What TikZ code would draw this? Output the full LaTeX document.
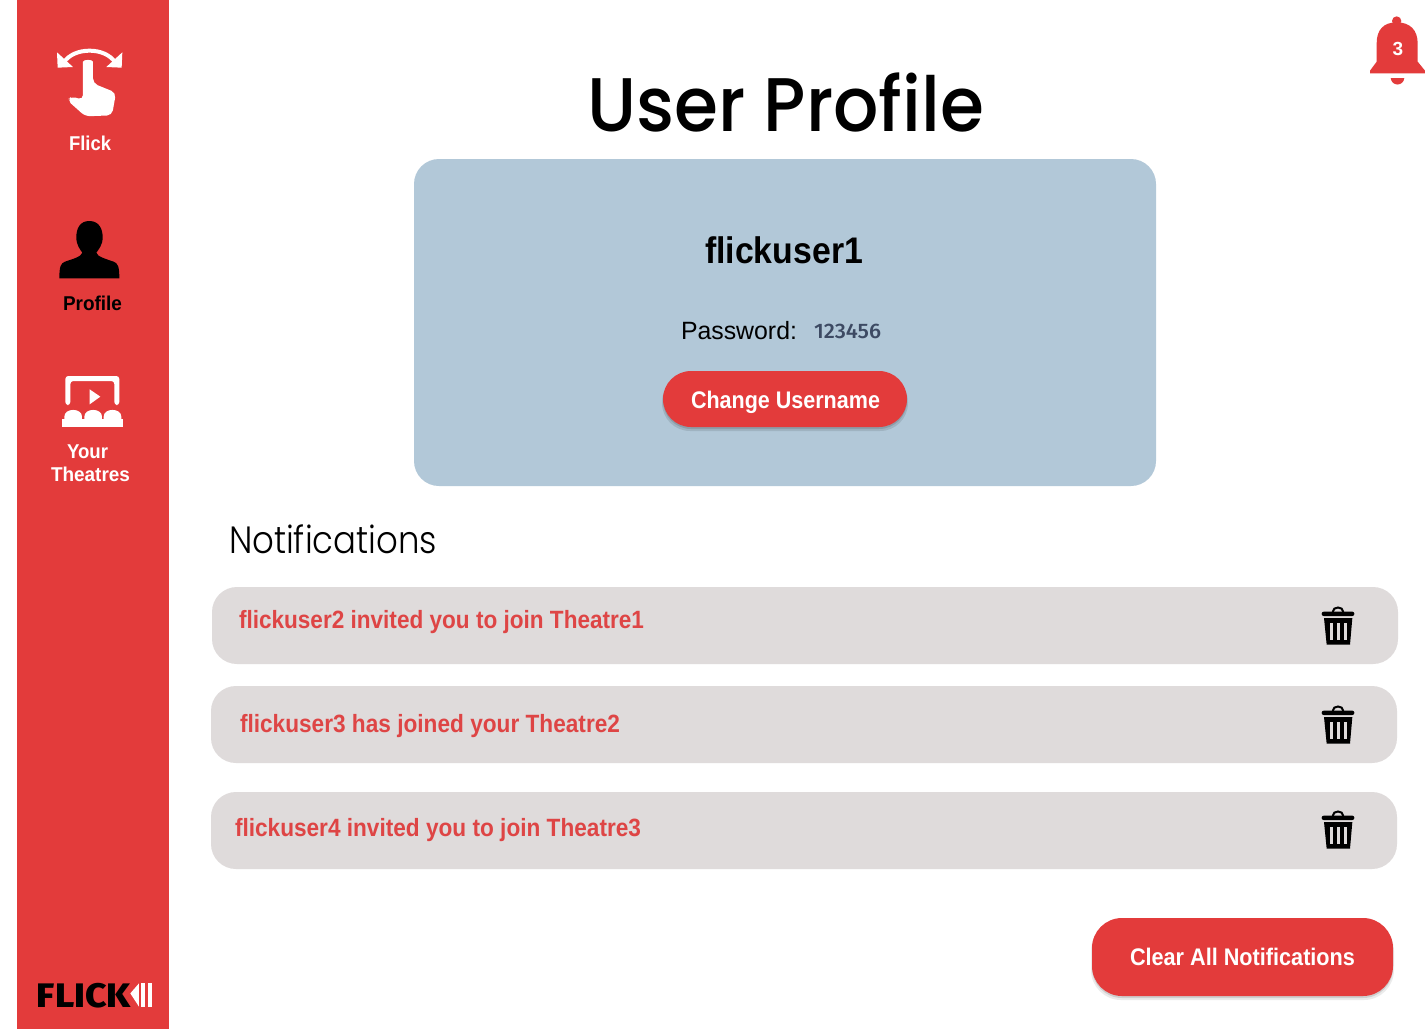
\documentclass[tikz,border=0pt]{standalone}
\usepackage{fontspec}
\usepackage{graphicx}
\setmainfont{Liberation Sans}
\newfontfamily\titlef{Poppins Medium}
\newfontfamily\lightf{Poppins Light}
\newfontfamily\medf{Fira Sans Medium}
\newfontfamily\logof{Fira Sans ExtraBold}
\definecolor{flickred}{HTML}{E33B3B}
\definecolor{cardblue}{HTML}{B2C8D8}
\definecolor{rowgrey}{HTML}{DFDBDB}
\definecolor{rowtext}{HTML}{DE4545}
\definecolor{pwtext}{HTML}{3D4A63}
\newcommand{\fitt}[4]{\resizebox{#1pt}{\height}{\fontsize{#2pt}{#2pt}\selectfont#3{}#4}}
\tikzset{
  txt/.style={anchor=base west,inner sep=0pt,outer sep=0pt},
  row/.style={fill=rowgrey,rounded corners=25pt},
}
\newcommand{\trash}[2]{%
\begin{scope}[shift={(#1,#2)},scale=1/3]
  \draw[black,line width=2pt] (98,48) .. controls (98,30) and (130,30) .. (130,48);
  \fill[black,rounded corners=2pt] (65,47) rectangle (163,60);
  \fill[black] (72,66) -- (157,66) -- (150,146) -- (80,146) -- cycle;
  \fill[rowgrey] (90,80) rectangle (100,132);
  \fill[rowgrey] (110,80) rectangle (120,132);
  \fill[rowgrey] (131,80) rectangle (141,132);
\end{scope}}
\newcommand{\seat}[2]{\fill[white] (#1,170) -- (#1,155) .. controls (#1,128) and (#2,128) .. (#2,155) -- (#2,170) -- cycle;}
\begin{document}
\begin{tikzpicture}[x=1pt,y=-1pt]
\useasboundingbox (0,0) rectangle (1425,1029);
\fill[white] (0,0) rectangle (1425,1029);
% sidebar
\fill[flickred] (17,0) rectangle (169,1029);
% flick icon
\begin{scope}[shift={(17,20)},scale=1/3]
  \draw[white,line width=4pt] (140,128) .. controls (170,80) and (265,80) .. (295,128);
  \fill[white] (120,97) -- (122,143) -- (168,141) -- cycle;
  \fill[white] (316,97) -- (314,143) -- (268,141) -- cycle;
  \fill[white,rounded corners=5pt] (198,140) .. controls (198,118) and (228,118) .. (228,140) -- (228,190) -- (297,218) -- (285,286) -- (205,289) -- (150,240) -- (165,229) -- (198,240) -- cycle;
\end{scope}
\node[txt,text=white] (lflick) at (69,150) {\fitt{42}{20}{\bfseries}{Flick}};
% profile icon
\begin{scope}[shift={(17,210)},scale=1/3]
  \fill[black] (217,33) .. controls (245,33) and (257,55) .. (257,82) .. controls (257,105) and (245,118) .. (238,128) .. controls (240,140) and (270,148) .. (290,155) .. controls (303,160) and (307,170) .. (307,205) -- (127,205) .. controls (127,170) and (131,160) .. (144,155) .. controls (164,148) and (194,140) .. (196,128) .. controls (189,118) and (178,105) .. (178,82) .. controls (178,55) and (189,33) .. (217,33) -- cycle;
\end{scope}
\node[txt,text=black] (lprofile) at (63,310) {\fitt{59}{20}{\bfseries}{Profile}};
% theatre icon
\begin{scope}[shift={(17,365)},scale=1/3]
  \fill[white,rounded corners=3pt] (145,120) -- (145,33) -- (307,33) -- (307,120) -- (292,120) -- (292,48) -- (160,48) -- (160,120) -- cycle;
  \fill[white] (218,73) -- (250,95) -- (218,118) -- cycle;
  \seat{142}{195}
  \seat{202}{255}
  \seat{260}{313}
  \fill[white] (135,163) rectangle (318,187);
\end{scope}
\node[txt,text=white] (lyour) at (67,458) {\fitt{41}{20}{\bfseries}{Your}};
\node[txt,text=white] (ltheatres) at (51,481) {\fitt{79}{20}{\bfseries}{Theatres}};
% logo
\node[txt,text=black] (logo) at (37,1007.5) {\fitt{94}{34}{\logof}{FLICK}};
\begin{scope}[shift={(17,960)},scale=1/3]
  \fill[white] (340,100) -- (366,70) -- (366,140) -- cycle;
  \fill[white] (373,70) rectangle (385,140);
  \fill[white] (393,70) rectangle (405,140);
\end{scope}
% bell
\begin{scope}[shift={(1355,5)},scale=1/3]
  \fill[flickred] (125,48) circle (14);
  \fill[flickred] (125,52) .. controls (165,52) and (188,75) .. (188,115) -- (188,170) -- (210,197) -- (210,205) -- (45,205) -- (45,197) -- (65,170) -- (65,115) .. controls (65,75) and (85,52) .. (125,52) -- cycle;
  \fill[flickred] (107,219) -- (148,219) .. controls (145,245) and (110,245) .. (107,219) -- cycle;
\end{scope}
\node[anchor=center,inner sep=0pt,text=white] (bellnum) at (1398,49) {\fontsize{19}{19}\selectfont\bfseries 3};
% title
\node[txt,text=black] (title) at (587,131) {\fitt{397}{76}{\titlef}{User Profile}};
% card
\fill[cardblue,rounded corners=25pt] (414,159) rectangle (1156,486);
\node[txt,text=black] (uname) at (705,263) {\fitt{158}{37}{\bfseries}{flickuser1}};
\node[txt,text=black] (pw) at (681,339) {\fitt{116}{25}{}{Password:}};
\node[txt,text=pwtext] (pwv) at (814,338) {\fitt{67}{21}{\medf}{123456}};
% change button
\fill[black,opacity=.10,rounded corners=28pt] (662,374) rectangle (908,431);
\fill[black,opacity=.12,rounded corners=28pt] (663,373) rectangle (907,429);
\fill[flickred,rounded corners=28pt] (663,371) rectangle (907,427);
\node[txt,text=white] (chg) at (691,408) {\fitt{189}{24}{\bfseries}{Change Username}};
% notifications
\node[txt,text=black] (notif) at (229,553) {\fitt{208}{38}{\lightf}{Notifications}};
\fill[row] (212,587) rectangle (1398,664);
\node[txt,text=rowtext] (n1) at (239,628) {\fitt{405}{25}{\bfseries}{flickuser2 invited you to join Theatre1}};
\trash{1300}{596}
\fill[row] (211,686) rectangle (1397,763);
\node[txt,text=rowtext] (n2) at (240,732) {\fitt{380}{25}{\bfseries}{flickuser3 has joined your Theatre2}};
\trash{1300}{695}
\fill[row] (211,792) rectangle (1397,869);
\node[txt,text=rowtext] (n3) at (235,836) {\fitt{406}{25}{\bfseries}{flickuser4 invited you to join Theatre3}};
\trash{1300}{800}
% clear button
\fill[black,opacity=.08,rounded corners=30pt] (1091,921) rectangle (1394,1000);
\fill[black,opacity=.12,rounded corners=30pt] (1092,920) rectangle (1393,998);
\fill[flickred,rounded corners=30pt] (1092,918) rectangle (1393,996);
\node[txt,text=white] (clr) at (1130,965) {\fitt{225}{24}{\bfseries}{Clear All Notifications}};
\end{tikzpicture}
\end{document}
